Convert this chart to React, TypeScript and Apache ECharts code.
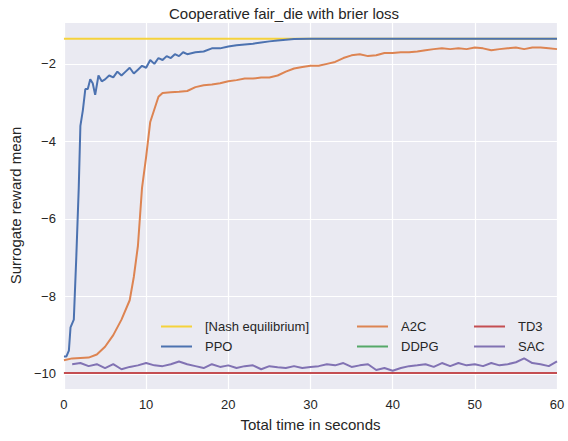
import React, { useEffect, useRef } from "react";
import * as echarts from "echarts";

const ppoX = [0,0.3,0.6,0.8,1.2,1.5,1.8,2.0,2.3,2.6,2.9,3.2,3.5,3.8,4.2,4.6,5,5.5,6,6.5,7,7.5,8,8.5,9,9.5,10,10.5,11,11.5,12,12.5,13,13.5,14,14.5,15,16,17,18,19,20,21,22,23,24,25,26,27,28,30,40,50,60];
const ppoY = [-9.55,-9.55,-9.4,-8.8,-8.6,-7,-5.2,-3.6,-3.2,-2.65,-2.65,-2.4,-2.5,-2.8,-2.3,-2.45,-2.4,-2.3,-2.35,-2.2,-2.3,-2.2,-2.1,-2.25,-2.15,-2.05,-2.1,-1.9,-2.0,-1.85,-1.9,-1.8,-1.85,-1.75,-1.8,-1.7,-1.75,-1.7,-1.68,-1.6,-1.6,-1.55,-1.52,-1.5,-1.48,-1.45,-1.42,-1.4,-1.38,-1.36,-1.35,-1.35,-1.35,-1.35];
const a2cX = [0,1,3,4,5,6,7,8,8.5,9,9.5,10,10.5,11.5,12,13,14,15,16,17,18,19,20,21,22,23,24,25,26,27,28,29,30,31,32,33,34,35,36,37,38,39,40,41,42,43,44,45,46,47,48,49,50,51,52,53,54,55,56,57,58,59,60];
const a2cY = [-9.65,-9.6,-9.58,-9.5,-9.3,-9.0,-8.6,-8.1,-7.5,-6.7,-5.2,-4.4,-3.5,-2.85,-2.75,-2.73,-2.72,-2.7,-2.6,-2.55,-2.53,-2.5,-2.45,-2.42,-2.38,-2.38,-2.35,-2.35,-2.3,-2.2,-2.12,-2.08,-2.05,-2.05,-2.0,-1.95,-1.85,-1.78,-1.75,-1.8,-1.78,-1.72,-1.72,-1.7,-1.7,-1.68,-1.65,-1.62,-1.6,-1.62,-1.6,-1.62,-1.58,-1.6,-1.65,-1.62,-1.6,-1.58,-1.62,-1.58,-1.58,-1.6,-1.62];
const sacX = [1,2,3,4,5,6,7,8,9,10,11,12,13,14,15,16,17,18,19,20,21,22,23,24,25,26,27,28,29,30,31,32,33,34,35,36,37,38,39,40,41,42,43,44,45,46,47,48,49,50,51,52,53,54,55,56,57,58,59,60];
const sacY = [-9.75,-9.72,-9.8,-9.75,-9.85,-9.75,-9.88,-9.82,-9.78,-9.72,-9.78,-9.8,-9.75,-9.68,-9.75,-9.8,-9.85,-9.75,-9.82,-9.78,-9.85,-9.8,-9.78,-9.88,-9.8,-9.83,-9.85,-9.8,-9.85,-9.82,-9.8,-9.75,-9.78,-9.72,-9.82,-9.78,-9.75,-9.9,-9.85,-9.92,-9.85,-9.8,-9.78,-9.75,-9.82,-9.72,-9.8,-9.72,-9.78,-9.75,-9.8,-9.72,-9.78,-9.75,-9.7,-9.6,-9.72,-9.75,-9.8,-9.68];
const nashY = -1.35;
const td3Y = -9.98;
const ddpgY = -9.98;
const xTicks = [0, 10, 20, 30, 40, 50, 60];

const zip = (xs: number[], ys: number[]) => xs.map((x, i) => [x, ys[i]]);
const flat = (v: number) => [[0, v], [60, v]];

export default function App() {
  const ref = useRef<HTMLDivElement>(null);
  useEffect(() => {
    const chart = echarts.init(ref.current!, null, { renderer: "svg" });
    const font = "Liberation Sans, Arial, sans-serif";
    const names = ["[Nash equilibrium]", "A2C", "TD3", "PPO", "DDPG", "SAC"];
    const pos = [[156, 315], [352, 315], [469, 315], [156, 335], [352, 335], [469, 335]];
    const legends = names.map((n, i) => ({
      data: [n], left: pos[i][0], top: pos[i][1], icon: "rect", itemWidth: 31, itemHeight: 2,
      itemGap: 0, textStyle: { fontFamily: font, fontSize: 13, color: "#262626", padding: [0, 0, 0, 8] },
    }));
    const line = (name: string, data: number[][], color: string) => ({
      name, type: "line", data, showSymbol: false, symbol: "none",
      lineStyle: { color, width: 2 }, itemStyle: { color },
    });
    chart.setOption({
      animation: false,
      backgroundColor: "#fff",
      title: { text: "Cooperative fair_die with brier loss", left: "center", top: 1,
        textStyle: { fontFamily: font, fontSize: 15, fontWeight: "normal", color: "#262626" } },
      legend: legends,
      grid: { left: 62, right: 11, top: 22, bottom: 52, backgroundColor: "#EAEAF2", show: true, borderWidth: 0 },
      xAxis: { type: "value", min: xTicks[0], max: xTicks[xTicks.length - 1], interval: 10,
        name: "Total time in seconds", nameLocation: "middle", nameGap: 28,
        nameTextStyle: { fontFamily: font, fontSize: 15, color: "#262626" },
        axisLine: { show: false }, axisTick: { show: false },
        axisLabel: { fontFamily: font, fontSize: 13, color: "#262626", margin: 9 },
        splitLine: { lineStyle: { color: "#fff", width: 1.2 } } },
      yAxis: { type: "value", min: -10.39, max: -0.92, splitNumber: 5,
        name: "Surrogate reward mean", nameLocation: "middle", nameGap: 40,
        nameTextStyle: { fontFamily: font, fontSize: 15, color: "#262626" },
        axisLine: { show: false }, axisTick: { show: false },
        axisLabel: { fontFamily: font, fontSize: 13, color: "#262626", showMinLabel: false, showMaxLabel: false,
          formatter: (v: number) => (Math.abs(v - Math.round(v)) < 1e-6 ? String(v).replace("-", "\u2212") : "") },
        splitLine: { lineStyle: { color: "#fff", width: 1.2 } } },
      series: [
        line("[Nash equilibrium]", flat(nashY), "#F5D23B"),
        line("PPO", zip(ppoX, ppoY), "#4C72B0"),
        line("A2C", zip(a2cX, a2cY), "#DD8452"),
        line("DDPG", flat(ddpgY), "#55A868"),
        line("TD3", flat(td3Y), "#C44E52"),
        line("SAC", zip(sacX, sacY), "#8172B3"),
      ],
    });
    return () => chart.dispose();
  }, []);
  return <div ref={ref} style={{ position: "fixed", left: 0, top: 0, width: 568, height: 441 }} />;
}
